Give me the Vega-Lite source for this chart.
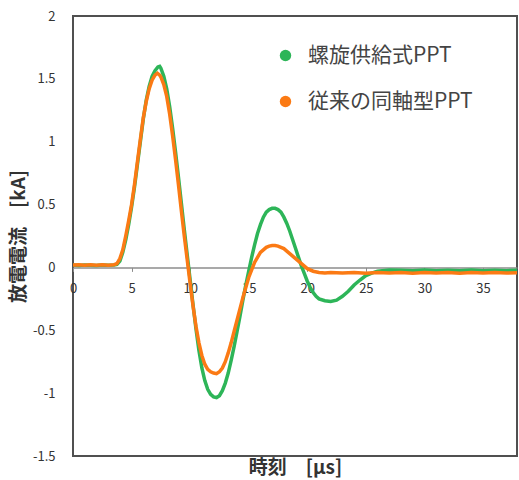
{
  "$schema": "https://vega.github.io/schema/vega-lite/v6.json",
  "width": 444,
  "height": 440,
  "autosize": {"type": "none"},
  "padding": {"left": 73, "top": 16, "right": 2, "bottom": 24},
  "background": "white",
  "config": {
    "font": "Noto Sans CJK JP",
    "view": {"stroke": "#505050", "strokeWidth": 2},
    "axis": {"grid": false, "labelColor": "#333333", "labelFontSize": 13, "titleColor": "#333333"}
  },
  "datasets": {
    "d": [
      {"t": 0, "v": 0.02, "s": "螺旋供給式PPT"},
      {"t": 0.5, "v": 0.015, "s": "螺旋供給式PPT"},
      {"t": 1, "v": 0.02, "s": "螺旋供給式PPT"},
      {"t": 1.5, "v": 0.017, "s": "螺旋供給式PPT"},
      {"t": 2, "v": 0.015, "s": "螺旋供給式PPT"},
      {"t": 2.5, "v": 0.02, "s": "螺旋供給式PPT"},
      {"t": 3, "v": 0.017, "s": "螺旋供給式PPT"},
      {"t": 3.5, "v": 0.02, "s": "螺旋供給式PPT"},
      {"t": 3.75, "v": 0.025, "s": "螺旋供給式PPT"},
      {"t": 4.0, "v": 0.05, "s": "螺旋供給式PPT"},
      {"t": 4.25, "v": 0.12, "s": "螺旋供給式PPT"},
      {"t": 4.5, "v": 0.22, "s": "螺旋供給式PPT"},
      {"t": 4.75, "v": 0.34, "s": "螺旋供給式PPT"},
      {"t": 5.0, "v": 0.48, "s": "螺旋供給式PPT"},
      {"t": 5.25, "v": 0.64, "s": "螺旋供給式PPT"},
      {"t": 5.5, "v": 0.82, "s": "螺旋供給式PPT"},
      {"t": 5.75, "v": 1.0, "s": "螺旋供給式PPT"},
      {"t": 6.0, "v": 1.18, "s": "螺旋供給式PPT"},
      {"t": 6.25, "v": 1.33, "s": "螺旋供給式PPT"},
      {"t": 6.5, "v": 1.44, "s": "螺旋供給式PPT"},
      {"t": 6.75, "v": 1.52, "s": "螺旋供給式PPT"},
      {"t": 7.0, "v": 1.565, "s": "螺旋供給式PPT"},
      {"t": 7.25, "v": 1.595, "s": "螺旋供給式PPT"},
      {"t": 7.4, "v": 1.6, "s": "螺旋供給式PPT"},
      {"t": 7.5, "v": 1.585, "s": "螺旋供給式PPT"},
      {"t": 7.75, "v": 1.52, "s": "螺旋供給式PPT"},
      {"t": 8.0, "v": 1.42, "s": "螺旋供給式PPT"},
      {"t": 8.25, "v": 1.28, "s": "螺旋供給式PPT"},
      {"t": 8.5, "v": 1.11, "s": "螺旋供給式PPT"},
      {"t": 8.75, "v": 0.92, "s": "螺旋供給式PPT"},
      {"t": 9.0, "v": 0.72, "s": "螺旋供給式PPT"},
      {"t": 9.25, "v": 0.51, "s": "螺旋供給式PPT"},
      {"t": 9.5, "v": 0.3, "s": "螺旋供給式PPT"},
      {"t": 9.75, "v": 0.1, "s": "螺旋供給式PPT"},
      {"t": 10.0, "v": -0.1, "s": "螺旋供給式PPT"},
      {"t": 10.25, "v": -0.3, "s": "螺旋供給式PPT"},
      {"t": 10.5, "v": -0.49, "s": "螺旋供給式PPT"},
      {"t": 10.75, "v": -0.66, "s": "螺旋供給式PPT"},
      {"t": 11.0, "v": -0.8, "s": "螺旋供給式PPT"},
      {"t": 11.25, "v": -0.9, "s": "螺旋供給式PPT"},
      {"t": 11.5, "v": -0.97, "s": "螺旋供給式PPT"},
      {"t": 11.75, "v": -1.01, "s": "螺旋供給式PPT"},
      {"t": 12.0, "v": -1.03, "s": "螺旋供給式PPT"},
      {"t": 12.25, "v": -1.035, "s": "螺旋供給式PPT"},
      {"t": 12.5, "v": -1.02, "s": "螺旋供給式PPT"},
      {"t": 12.75, "v": -0.98, "s": "螺旋供給式PPT"},
      {"t": 13.0, "v": -0.92, "s": "螺旋供給式PPT"},
      {"t": 13.25, "v": -0.84, "s": "螺旋供給式PPT"},
      {"t": 13.5, "v": -0.74, "s": "螺旋供給式PPT"},
      {"t": 13.75, "v": -0.63, "s": "螺旋供給式PPT"},
      {"t": 14.0, "v": -0.51, "s": "螺旋供給式PPT"},
      {"t": 14.25, "v": -0.39, "s": "螺旋供給式PPT"},
      {"t": 14.5, "v": -0.26, "s": "螺旋供給式PPT"},
      {"t": 14.75, "v": -0.14, "s": "螺旋供給式PPT"},
      {"t": 15.0, "v": -0.03, "s": "螺旋供給式PPT"},
      {"t": 15.25, "v": 0.08, "s": "螺旋供給式PPT"},
      {"t": 15.5, "v": 0.18, "s": "螺旋供給式PPT"},
      {"t": 15.75, "v": 0.27, "s": "螺旋供給式PPT"},
      {"t": 16.0, "v": 0.34, "s": "螺旋供給式PPT"},
      {"t": 16.25, "v": 0.4, "s": "螺旋供給式PPT"},
      {"t": 16.5, "v": 0.44, "s": "螺旋供給式PPT"},
      {"t": 16.75, "v": 0.46, "s": "螺旋供給式PPT"},
      {"t": 17.0, "v": 0.47, "s": "螺旋供給式PPT"},
      {"t": 17.25, "v": 0.47, "s": "螺旋供給式PPT"},
      {"t": 17.5, "v": 0.46, "s": "螺旋供給式PPT"},
      {"t": 17.75, "v": 0.44, "s": "螺旋供給式PPT"},
      {"t": 18.0, "v": 0.4, "s": "螺旋供給式PPT"},
      {"t": 18.25, "v": 0.35, "s": "螺旋供給式PPT"},
      {"t": 18.5, "v": 0.29, "s": "螺旋供給式PPT"},
      {"t": 18.75, "v": 0.22, "s": "螺旋供給式PPT"},
      {"t": 19.0, "v": 0.15, "s": "螺旋供給式PPT"},
      {"t": 19.25, "v": 0.08, "s": "螺旋供給式PPT"},
      {"t": 19.5, "v": 0.01, "s": "螺旋供給式PPT"},
      {"t": 19.75, "v": -0.05, "s": "螺旋供給式PPT"},
      {"t": 20.0, "v": -0.11, "s": "螺旋供給式PPT"},
      {"t": 20.25, "v": -0.16, "s": "螺旋供給式PPT"},
      {"t": 20.5, "v": -0.2, "s": "螺旋供給式PPT"},
      {"t": 20.75, "v": -0.23, "s": "螺旋供給式PPT"},
      {"t": 21.0, "v": -0.25, "s": "螺旋供給式PPT"},
      {"t": 21.5, "v": -0.265, "s": "螺旋供給式PPT"},
      {"t": 22.0, "v": -0.27, "s": "螺旋供給式PPT"},
      {"t": 22.5, "v": -0.26, "s": "螺旋供給式PPT"},
      {"t": 23.0, "v": -0.23, "s": "螺旋供給式PPT"},
      {"t": 23.5, "v": -0.19, "s": "螺旋供給式PPT"},
      {"t": 24.0, "v": -0.14, "s": "螺旋供給式PPT"},
      {"t": 24.5, "v": -0.1, "s": "螺旋供給式PPT"},
      {"t": 25.0, "v": -0.065, "s": "螺旋供給式PPT"},
      {"t": 25.5, "v": -0.045, "s": "螺旋供給式PPT"},
      {"t": 26.0, "v": -0.03, "s": "螺旋供給式PPT"},
      {"t": 27, "v": -0.02, "s": "螺旋供給式PPT"},
      {"t": 28, "v": -0.022, "s": "螺旋供給式PPT"},
      {"t": 29, "v": -0.026, "s": "螺旋供給式PPT"},
      {"t": 30, "v": -0.02, "s": "螺旋供給式PPT"},
      {"t": 31, "v": -0.027, "s": "螺旋供給式PPT"},
      {"t": 32, "v": -0.022, "s": "螺旋供給式PPT"},
      {"t": 33, "v": -0.027, "s": "螺旋供給式PPT"},
      {"t": 34, "v": -0.021, "s": "螺旋供給式PPT"},
      {"t": 35, "v": -0.026, "s": "螺旋供給式PPT"},
      {"t": 36, "v": -0.022, "s": "螺旋供給式PPT"},
      {"t": 37, "v": -0.026, "s": "螺旋供給式PPT"},
      {"t": 37.9, "v": -0.022, "s": "螺旋供給式PPT"},

      {"t": 0, "v": 0.02, "s": "従来の同軸型PPT"},
      {"t": 0.5, "v": 0.022, "s": "従来の同軸型PPT"},
      {"t": 1, "v": 0.017, "s": "従来の同軸型PPT"},
      {"t": 1.5, "v": 0.022, "s": "従来の同軸型PPT"},
      {"t": 2, "v": 0.018, "s": "従来の同軸型PPT"},
      {"t": 2.5, "v": 0.022, "s": "従来の同軸型PPT"},
      {"t": 3, "v": 0.018, "s": "従来の同軸型PPT"},
      {"t": 3.5, "v": 0.022, "s": "従来の同軸型PPT"},
      {"t": 3.75, "v": 0.03, "s": "従来の同軸型PPT"},
      {"t": 4.0, "v": 0.07, "s": "従来の同軸型PPT"},
      {"t": 4.25, "v": 0.14, "s": "従来の同軸型PPT"},
      {"t": 4.5, "v": 0.25, "s": "従来の同軸型PPT"},
      {"t": 4.75, "v": 0.37, "s": "従来の同軸型PPT"},
      {"t": 5.0, "v": 0.5, "s": "従来の同軸型PPT"},
      {"t": 5.25, "v": 0.66, "s": "従来の同軸型PPT"},
      {"t": 5.5, "v": 0.84, "s": "従来の同軸型PPT"},
      {"t": 5.75, "v": 1.02, "s": "従来の同軸型PPT"},
      {"t": 6.0, "v": 1.19, "s": "従来の同軸型PPT"},
      {"t": 6.25, "v": 1.32, "s": "従来の同軸型PPT"},
      {"t": 6.5, "v": 1.42, "s": "従来の同軸型PPT"},
      {"t": 6.75, "v": 1.49, "s": "従来の同軸型PPT"},
      {"t": 7.0, "v": 1.53, "s": "従来の同軸型PPT"},
      {"t": 7.2, "v": 1.545, "s": "従来の同軸型PPT"},
      {"t": 7.4, "v": 1.53, "s": "従来の同軸型PPT"},
      {"t": 7.5, "v": 1.515, "s": "従来の同軸型PPT"},
      {"t": 7.75, "v": 1.455, "s": "従来の同軸型PPT"},
      {"t": 8.0, "v": 1.36, "s": "従来の同軸型PPT"},
      {"t": 8.25, "v": 1.22, "s": "従来の同軸型PPT"},
      {"t": 8.5, "v": 1.05, "s": "従来の同軸型PPT"},
      {"t": 8.75, "v": 0.86, "s": "従来の同軸型PPT"},
      {"t": 9.0, "v": 0.66, "s": "従来の同軸型PPT"},
      {"t": 9.25, "v": 0.45, "s": "従来の同軸型PPT"},
      {"t": 9.5, "v": 0.25, "s": "従来の同軸型PPT"},
      {"t": 9.75, "v": 0.06, "s": "従来の同軸型PPT"},
      {"t": 10.0, "v": -0.13, "s": "従来の同軸型PPT"},
      {"t": 10.25, "v": -0.31, "s": "従来の同軸型PPT"},
      {"t": 10.5, "v": -0.47, "s": "従来の同軸型PPT"},
      {"t": 10.75, "v": -0.6, "s": "従来の同軸型PPT"},
      {"t": 11.0, "v": -0.7, "s": "従来の同軸型PPT"},
      {"t": 11.25, "v": -0.77, "s": "従来の同軸型PPT"},
      {"t": 11.5, "v": -0.81, "s": "従来の同軸型PPT"},
      {"t": 11.75, "v": -0.83, "s": "従来の同軸型PPT"},
      {"t": 12.0, "v": -0.84, "s": "従来の同軸型PPT"},
      {"t": 12.25, "v": -0.845, "s": "従来の同軸型PPT"},
      {"t": 12.5, "v": -0.83, "s": "従来の同軸型PPT"},
      {"t": 12.75, "v": -0.8, "s": "従来の同軸型PPT"},
      {"t": 13.0, "v": -0.75, "s": "従来の同軸型PPT"},
      {"t": 13.25, "v": -0.68, "s": "従来の同軸型PPT"},
      {"t": 13.5, "v": -0.6, "s": "従来の同軸型PPT"},
      {"t": 13.75, "v": -0.51, "s": "従来の同軸型PPT"},
      {"t": 14.0, "v": -0.42, "s": "従来の同軸型PPT"},
      {"t": 14.25, "v": -0.33, "s": "従来の同軸型PPT"},
      {"t": 14.5, "v": -0.24, "s": "従来の同軸型PPT"},
      {"t": 14.75, "v": -0.16, "s": "従来の同軸型PPT"},
      {"t": 15.0, "v": -0.08, "s": "従来の同軸型PPT"},
      {"t": 15.25, "v": -0.02, "s": "従来の同軸型PPT"},
      {"t": 15.5, "v": 0.04, "s": "従来の同軸型PPT"},
      {"t": 15.75, "v": 0.08, "s": "従来の同軸型PPT"},
      {"t": 16.0, "v": 0.12, "s": "従来の同軸型PPT"},
      {"t": 16.25, "v": 0.14, "s": "従来の同軸型PPT"},
      {"t": 16.5, "v": 0.16, "s": "従来の同軸型PPT"},
      {"t": 16.75, "v": 0.17, "s": "従来の同軸型PPT"},
      {"t": 17.0, "v": 0.175, "s": "従来の同軸型PPT"},
      {"t": 17.25, "v": 0.175, "s": "従来の同軸型PPT"},
      {"t": 17.5, "v": 0.17, "s": "従来の同軸型PPT"},
      {"t": 17.75, "v": 0.16, "s": "従来の同軸型PPT"},
      {"t": 18.0, "v": 0.15, "s": "従来の同軸型PPT"},
      {"t": 18.25, "v": 0.13, "s": "従来の同軸型PPT"},
      {"t": 18.5, "v": 0.11, "s": "従来の同軸型PPT"},
      {"t": 18.75, "v": 0.09, "s": "従来の同軸型PPT"},
      {"t": 19.0, "v": 0.07, "s": "従来の同軸型PPT"},
      {"t": 19.25, "v": 0.05, "s": "従来の同軸型PPT"},
      {"t": 19.5, "v": 0.03, "s": "従来の同軸型PPT"},
      {"t": 19.75, "v": 0.01, "s": "従来の同軸型PPT"},
      {"t": 20.0, "v": -0.01, "s": "従来の同軸型PPT"},
      {"t": 20.5, "v": -0.03, "s": "従来の同軸型PPT"},
      {"t": 21.0, "v": -0.04, "s": "従来の同軸型PPT"},
      {"t": 21.5, "v": -0.045, "s": "従来の同軸型PPT"},
      {"t": 22, "v": -0.04, "s": "従来の同軸型PPT"},
      {"t": 23, "v": -0.045, "s": "従来の同軸型PPT"},
      {"t": 24, "v": -0.04, "s": "従来の同軸型PPT"},
      {"t": 25, "v": -0.046, "s": "従来の同軸型PPT"},
      {"t": 26, "v": -0.04, "s": "従来の同軸型PPT"},
      {"t": 27, "v": -0.045, "s": "従来の同軸型PPT"},
      {"t": 28, "v": -0.04, "s": "従来の同軸型PPT"},
      {"t": 29, "v": -0.046, "s": "従来の同軸型PPT"},
      {"t": 30, "v": -0.041, "s": "従来の同軸型PPT"},
      {"t": 31, "v": -0.045, "s": "従来の同軸型PPT"},
      {"t": 32, "v": -0.04, "s": "従来の同軸型PPT"},
      {"t": 33, "v": -0.046, "s": "従来の同軸型PPT"},
      {"t": 34, "v": -0.041, "s": "従来の同軸型PPT"},
      {"t": 35, "v": -0.045, "s": "従来の同軸型PPT"},
      {"t": 36, "v": -0.04, "s": "従来の同軸型PPT"},
      {"t": 37, "v": -0.045, "s": "従来の同軸型PPT"},
      {"t": 37.9, "v": -0.042, "s": "従来の同軸型PPT"}
    ]
  },
  "data": {"name": "d"},
  "mark": {"type": "line", "strokeWidth": 3.5, "clip": true},
  "encoding": {
    "x": {
      "field": "t",
      "type": "quantitative",
      "scale": {"domain": [0, 37.9], "nice": false, "zero": false},
      "axis": {
        "values": [0, 5, 10, 15, 20, 25, 30, 35],
        "offset": -188.6,
        "domainColor": "#8c8c8c",
        "domainWidth": 1.5,
        "tickColor": "#8c8c8c",
        "tickSize": 4,
        "labelPadding": 11,
        "labelFlush": false,
        "labelExpr": "datum.value + ''",
        "title": "時刻　[μs]",
        "titleFontSize": 19,
        "titleFontWeight": "bold",
        "titleY": 200,
        "titleBaseline": "middle"
      }
    },
    "y": {
      "field": "v",
      "type": "quantitative",
      "scale": {"domain": [-1.5, 2], "nice": false},
      "axis": {
        "values": [-1.5, -1, -0.5, 0, 0.5, 1, 1.5, 2],
        "domain": false,
        "ticks": false,
        "tickSize": 0,
        "labelPadding": 18,
        "labelExpr": "datum.value + ''",
        "title": "放電電流　[kA]",
        "titleFontSize": 19,
        "titleFontWeight": "bold",
        "titleX": -55,
        "titleBaseline": "middle"
      }
    },
    "color": {
      "field": "s",
      "type": "nominal",
      "scale": {"domain": ["螺旋供給式PPT", "従来の同軸型PPT"], "range": ["#2DB558", "#FB7A14"]},
      "legend": {
        "title": null,
        "orient": "none",
        "legendX": 202,
        "legendY": 29,
        "padding": 0,
        "symbolType": "circle",
        "symbolSize": 130,
        "symbolStrokeWidth": 0,
        "labelFontSize": 21,
        "labelLimit": 400,
        "labelColor": "#444444",
        "labelOffset": 12,
        "rowPadding": 24,
        "encode": {"symbols": {"update": {"fill": {"scale": "color", "field": "value"}, "fillOpacity": {"value": 1}}}}
      }
    }
  }
}
